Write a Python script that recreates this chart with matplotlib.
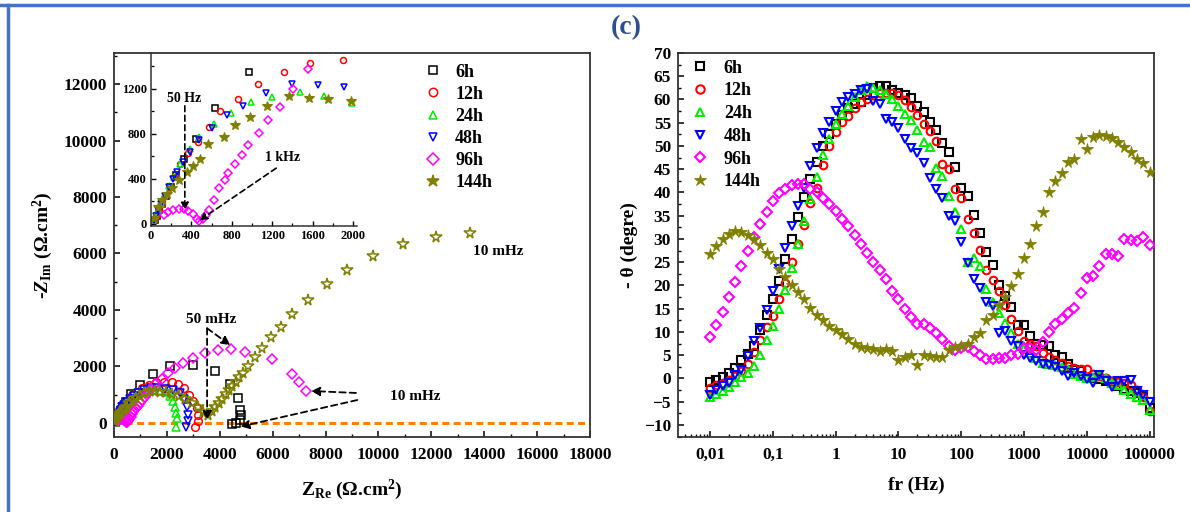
import matplotlib
matplotlib.use('Agg')
import matplotlib.pyplot as plt
from matplotlib.ticker import MultipleLocator, FixedLocator, FixedFormatter, LogLocator, NullFormatter
from matplotlib.lines import Line2D

plt.rcParams['font.family'] = ['Liberation Serif', 'DejaVu Serif']
plt.rcParams['font.weight'] = 'bold'
plt.rcParams['mathtext.fontset'] = 'custom'
plt.rcParams['mathtext.rm'] = 'Liberation Serif:bold'
plt.rcParams['mathtext.bf'] = 'Liberation Serif:bold'
plt.rcParams['mathtext.it'] = 'Liberation Serif:italic:bold'
plt.rcParams['mathtext.bfit'] = 'Liberation Serif:italic:bold'

# ---------------- data ----------------
SERIES = ['6h', '12h', '24h', '48h', '96h', '144h']
COLORS = ['#000000', '#ff0000', '#00ee00', '#0000ff', '#ff00ff', '#808000']
MARKERS = ['s', 'o', '^', 'v', 'D', '*']

# Nyquist (Z_Re, -Z_Im) in ohm.cm2
ZRE_6H = [35, 55, 80, 110, 150, 195, 250, 330, 444, 637, 975, 1463, 2118, 3000, 3820, 4390, 4700, 4765, 4790, 4765, 4614, 4475]
ZIM_6H = [30, 70, 120, 180, 250, 330, 430, 580, 755, 1028, 1348, 1718, 2030, 2047, 1830, 1360, 871, 470, 282, 106, -12, -47]

ZRE_12H = [30, 50, 75, 105, 140, 180, 230, 290, 371, 461, 570, 687, 866, 1055, 1313, 1579, 1897, 2180, 2430, 2650, 2850, 3000, 3120, 3170, 3170, 3080]
ZIM_12H = [30, 70, 120, 180, 250, 330, 420, 530, 628, 731, 859, 1001, 1108, 1244, 1348, 1434, 1458, 1450, 1380, 1230, 1000, 760, 520, 280, 60, -160]

ZRE_24H = [20, 40, 65, 95, 130, 179, 230, 290, 385, 478, 627, 796, 992, 1201, 1473, 1711, 1993, 2120, 2220, 2290, 2350, 2400, 2345]
ZIM_24H = [30, 70, 120, 180, 250, 332, 420, 530, 667, 771, 886, 984, 1082, 1132, 1170, 1141, 1078, 950, 760, 560, 365, 170, -150]

ZRE_48H = [25, 45, 70, 100, 135, 175, 220, 262, 312, 385, 480, 600, 749, 908, 1141, 1400, 1655, 1913, 2240, 2480, 2660, 2760, 2800, 2800, 2720]
ZIM_48H = [30, 70, 120, 180, 250, 330, 400, 465, 554, 643, 750, 856, 969, 1049, 1168, 1242, 1236, 1215, 1180, 1050, 850, 580, 290, 50, -150]

ZRE_96H = [129, 172, 219, 279, 328, 371, 419, 451, 478, 510, 544, 577, 627, 677, 736, 760, 830, 902, 965, 1065, 1158, 1274, 1406, 1555,
           1800, 2050, 2320, 2620, 3000, 3440, 3940, 4440, 4950, 5960, 6720, 7010, 7250]
ZIM_96H = [80, 107, 124, 133, 133, 110, 86, 42, 21, 42, 75, 124, 213, 317, 391, 450, 530, 613, 702, 812, 925, 1043, 1197, 1375,
           1560, 1760, 1930, 2120, 2290, 2460, 2580, 2630, 2520, 2250, 1720, 1440, 1140]

ZRE_144H = [30, 70, 113, 163, 212, 279, 361, 411, 487, 561, 719, 836, 985, 1151, 1363, 1562, 1755, 1977,
            2200, 2450, 2700, 2940, 3190, 3380, 3570,
            3700, 3830, 3960, 4090, 4220, 4350, 4480, 4610, 4740, 4880, 5080, 5333, 5585, 5938, 6305, 6745, 7349,
            8045, 8824, 9807, 10918, 12180, 13465]
ZIM_144H = [50, 150, 213, 265, 317, 391, 465, 516, 575, 708, 771, 880, 948, 1049, 1138, 1117, 1111, 1093,
            1010, 950, 860, 700, 560, 400, 280,
            420, 560, 710, 860, 1010, 1160, 1310, 1460, 1610, 1770, 2000, 2341, 2635, 3025, 3400, 3870, 4365,
            4930, 5424, 5894, 6318, 6600, 6717]

# Bode phase
FREQ_HZ = [0.01, 0.0126, 0.0158, 0.02, 0.0251, 0.0316, 0.0398, 0.0501, 0.0631, 0.0794,
           0.1, 0.126, 0.158, 0.2, 0.251, 0.316, 0.398, 0.501, 0.631, 0.794,
           1, 1.26, 1.58, 2, 2.51, 3.16, 3.98, 5.01, 6.31, 7.94,
           10, 12.6, 15.8, 20, 25.1, 31.6, 39.8, 50.1, 63.1, 79.4,
           100, 126, 158, 200, 251, 316, 398, 501, 631, 794,
           1000, 1260, 1580, 2000, 2510, 3160, 3980, 5010, 6310, 7940,
           10000, 12600, 15800, 20000, 25100, 31600, 39800, 50100, 63100, 79400, 100000]

PH_6H = [-0.8, -0.3, 0.3, 1.2, 2.2, 3.9, 5.3, 7.0, 10.5, 13.6,
         17.0, 20.9, 25.7, 29.9, 34.7, 39.0, 43.0, 46.6, 50.0, 52.5,
         54.7, 56.6, 58.1, 59.0, 59.4, 61.0, 62.5, 63.0, 63.0, 62.0,
         61.5, 61.0, 60.4, 58.5, 57.3, 55.2, 53.4, 50.6, 48.6, 45.4,
         40.9, 39.2, 35.1, 31.2, 27.2, 24.4, 20.1, 17.8, 15.4, 11.5,
         11.4, 9.2, 7.5, 7.2, 7.0, 5.0, 4.6, 3.0, 1.9, 1.5,
         0.1, 0.0, -0.2, -0.6, -1.0, -1.6, -2.3, -2.8, -3.2, -4.0, -6.3]

PH_12H = [-2.0, -1.5, -1.0, -0.3, 0.5, 1.5, 3.0, 5.6, 8.3, 11.0,
          13.5, 17.0, 20.5, 25.0, 29.0, 33.0, 37.7, 41.0, 46.0, 50.0,
          53.0, 55.2, 56.5, 58.1, 59.5, 60.2, 61.0, 61.3, 61.5, 61.5,
          61.0, 59.8, 58.4, 56.6, 54.8, 53.2, 51.1, 46.1, 45.1, 40.8,
          38.9, 34.4, 31.2, 27.6, 23.3, 21.1, 18.8, 15.9, 12.8, 10.3,
          8.0, 7.3, 7.0, 5.5, 4.7, 4.0, 3.3, 2.6, 2.3, 2.0,
          2.0, 1.0, 0.5, 0.0, -0.5, -0.8, -1.0, -1.5, -2.5, -4.0, -7.0]

PH_24H = [-4.0, -3.4, -2.6, -1.9, -0.8, 0.3, 1.2, 2.6, 5.0, 8.2,
          11.2, 15.0, 19.1, 23.8, 29.0, 33.9, 38.7, 43.4, 48.0, 51.6,
          54.7, 56.9, 58.5, 60.5, 62.0, 63.0, 62.5, 62.0, 61.2, 60.0,
          58.5, 56.8, 55.6, 53.5, 50.9, 49.7, 45.2, 43.5, 39.3, 35.8,
          32.2, 25.0, 26.0, 24.2, 19.3, 16.5, 14.0, 12.0, 9.8, 7.5,
          6.5, 5.5, 4.5, 3.3, 3.0, 2.8, 2.5, 2.0, 1.0, 0.5,
          0.1, 0.3, 0.8, 0.0, -1.0, -1.5, -2.5, -3.4, -4.0, -4.7, -6.7]

PH_48H = [-3.5, -2.4, -1.7, -0.9, 0.8, 1.9, 4.9, 8.0, 10.8, 14.8,
          18.8, 23.5, 28.0, 32.8, 37.0, 41.0, 45.7, 49.5, 52.7, 55.2,
          57.5, 59.5, 60.5, 61.2, 62.0, 62.2, 59.7, 59.0, 55.8, 55.1,
          53.8, 51.5, 49.5, 48.5, 46.3, 43.2, 40.8, 38.9, 34.9, 33.9,
          29.4, 24.9, 21.3, 19.5, 16.4, 15.5, 9.8, 10.3, 8.0, 6.9,
          5.0, 4.4, 3.7, 3.2, 2.8, 2.4, 1.5, 0.6, 1.1, 0.5,
          -0.2, -0.9, 0.8, -0.5, -1.9, -0.6, -0.5, -0.4, -2.8, -3.5, -5.0]

PH_96H = [8.9, 11.4, 14.3, 17.5, 20.7, 24.2, 27.4, 30.5, 33.3, 35.8,
          38.2, 39.8, 40.8, 41.5, 41.9, 41.8, 40.8, 40.0, 38.9, 37.5,
          36.0, 34.4, 32.8, 30.8, 29.0, 27.0, 25.0, 23.4, 21.3, 18.9,
          17.0, 15.0, 13.2, 11.7, 11.6, 10.8, 9.8, 8.5, 7.0, 6.2,
          6.5, 6.7, 6.0, 5.1, 4.2, 4.2, 4.3, 4.4, 5.1, 5.3,
          6.5, 6.5, 6.2, 7.8, 9.9, 11.6, 12.8, 14.1, 15.1, 18.4,
          21.6, 22.0, 24.1, 26.7, 26.7, 26.3, 29.9, 29.8, 29.5, 30.5, 28.7]

PH_144H = [26.7, 28.5, 29.9, 31.0, 31.7, 31.4, 30.8, 29.9, 28.6, 27.0,
           25.6, 23.5, 21.8, 20.2, 18.6, 17.0, 15.2, 13.6, 12.6, 11.2,
           10.5, 9.5, 8.5, 7.5, 6.7, 6.6, 6.3, 6.0, 6.3, 5.8,
           4.0, 4.7, 5.1, 2.8, 5.1, 4.8, 4.7, 4.6, 6.2, 6.7,
           6.9, 7.5, 8.9, 9.8, 12.5, 13.7, 15.7, 17.6, 19.8, 22.5,
           26.0, 29.0, 32.8, 35.8, 40.0, 42.5, 44.1, 46.6, 47.3, 51.6,
           49.3, 52.0, 52.3, 52.2, 51.8, 50.8, 49.7, 48.6, 47.3, 46.3, 44.4]

XTICK_FREQ = [0.01, 0.1, 1, 10, 100, 1000, 10000, 100000]
XTICK_LABELS = ['0,01', '0,1', '1', '10', '100', '1000', '10000', '100000']

NYQ = [(ZRE_6H, ZIM_6H), (ZRE_12H, ZIM_12H), (ZRE_24H, ZIM_24H),
       (ZRE_48H, ZIM_48H), (ZRE_96H, ZIM_96H), (ZRE_144H, ZIM_144H)]
BODE = [PH_6H, PH_12H, PH_24H, PH_48H, PH_96H, PH_144H]

# ---------------- figure ----------------
W, H = 1190, 512
fig = plt.figure(figsize=(W / 100, H / 100), dpi=100)
fig.patch.set_facecolor('white')


def frac(x0, y0, x1, y1):
    return [x0 / W, 1 - y1 / H, (x1 - x0) / W, (y1 - y0) / H]


axL = fig.add_axes(frac(114, 53, 590, 437))
axR = fig.add_axes(frac(678, 53, 1154, 437))
axI = fig.add_axes(frac(151, 53, 357, 226))

SPINE = '#333333'
for ax in (axL, axR):
    for s in ax.spines.values():
        s.set_linewidth(1.3)
        s.set_color(SPINE)
    ax.tick_params(which='both', direction='in', top=False, right=False, colors='black')
    ax.tick_params(which='major', length=4.5, width=1.1, labelsize=12.5, pad=5)
    ax.tick_params(which='minor', length=2.5, width=1.0)

# ----- Left: Nyquist -----
axL.set_xlim(0, 18000)
axL.set_ylim(-500, 13100)
axL.xaxis.set_major_locator(MultipleLocator(2000))
axL.xaxis.set_minor_locator(MultipleLocator(1000))
axL.yaxis.set_major_locator(MultipleLocator(2000))
axL.yaxis.set_minor_locator(MultipleLocator(1000))
axL.tick_params(axis='x', pad=7)
axL.axhline(0, color='#ff8000', lw=2.2, ls=(0, (2.3, 1.4)), zorder=1)

for (zr, zi), c, m, lab in zip(NYQ, COLORS, MARKERS, SERIES):
    ms = 8.5 if m == '*' else 5.5
    axL.plot(zr, zi, ls='none', marker=m, ms=ms, mfc='none', mec=c, mew=1.1, label=lab, zorder=3)

axL.set_xlabel('Z$_{\\mathbf{Re}}$ (Ω.cm$^{\\mathbf{2}}$)', fontsize=14, fontweight='bold', labelpad=11)
axL.set_ylabel('-$\\mathbfit{Z}_{\\mathbf{Im}}$ (Ω.cm$^{\\mathbf{2}}$)', fontsize=14, fontweight='bold', labelpad=6)

legL = axL.legend(loc='upper left', bbox_to_anchor=(0.652, 0.972), frameon=False, fontsize=13,
                  handlelength=1.0, handletextpad=0.7, labelspacing=0.28, borderpad=0, borderaxespad=0,
                  markerscale=1.1)
legL.legend_handles[5].set_markerfacecolor(COLORS[5])

arrow_kw = dict(arrowstyle='-|>', color='black', lw=1.3, ls=(0, (3.5, 2.2)), mutation_scale=13,
                shrinkA=0, shrinkB=0)
axL.text(3670, 3650, '50 mHz', fontsize=11, fontweight='bold', ha='center', va='center')
axL.annotate('', xy=(3520, 100), xytext=(3520, 3350), arrowprops=arrow_kw)
axL.annotate('', xy=(4400, 2750), xytext=(3520, 3350), arrowprops=arrow_kw)
axL.text(14520, 6080, '10 mHz', fontsize=11, fontweight='bold', ha='center', va='center')
axL.text(11385, 930, '10 mHz', fontsize=11, fontweight='bold', ha='center', va='center')
axL.annotate('', xy=(7450, 1130), xytext=(9150, 1060), arrowprops=arrow_kw)
axL.annotate('', xy=(4780, -130), xytext=(9200, 810), arrowprops=arrow_kw)

# ----- Inset -----
axI.set_xlim(0, 2040)
axI.set_ylim(-20, 1520)
axI.patch.set_alpha(0)
for side in ('top', 'right'):
    axI.spines[side].set_visible(False)
for side in ('left', 'bottom'):
    axI.spines[side].set_linewidth(1.1)
    axI.spines[side].set_color(SPINE)
axI.xaxis.set_major_locator(MultipleLocator(400))
axI.xaxis.set_minor_locator(MultipleLocator(200))
axI.yaxis.set_major_locator(MultipleLocator(400))
axI.yaxis.set_minor_locator(MultipleLocator(200))
axI.tick_params(which='both', direction='in', top=False, right=False)
axI.tick_params(which='major', length=3.5, width=1.0, labelsize=9, pad=3)
axI.tick_params(which='minor', length=2, width=0.9)
for (zr, zi), c, m in zip(NYQ, COLORS, MARKERS):
    if m == '*':
        axI.plot(zr, zi, ls='none', marker=m, ms=7, mfc=c, mec=c, mew=0.8, clip_on=True)
    else:
        axI.plot(zr, zi, ls='none', marker=m, ms=4.3, mfc='none', mec=c, mew=1.1, clip_on=True)

arrow_i = dict(arrowstyle='-|>', color='black', lw=1.2, ls=(0, (3.5, 2.2)), mutation_scale=11,
               shrinkA=0, shrinkB=0)
axI.text(328, 1115, '50 Hz', fontsize=10, fontweight='bold', ha='center', va='center')
axI.annotate('', xy=(335, 120), xytext=(335, 1050), arrowprops=arrow_i)
axI.text(1300, 590, '1 kHz', fontsize=10, fontweight='bold', ha='center', va='center')
axI.annotate('', xy=(480, 30), xytext=(1240, 495), arrowprops=arrow_i)

# ----- Right: Bode phase -----
axR.set_xscale('log')
axR.set_xlim(10 ** -2.51, 10 ** 5.07)
axR.set_ylim(-12.6, 70)
axR.xaxis.set_major_locator(FixedLocator(XTICK_FREQ))
axR.xaxis.set_major_formatter(FixedFormatter(XTICK_LABELS))
axR.xaxis.set_minor_locator(LogLocator(base=10, subs=[2, 3, 4, 5, 6, 7, 8, 9], numticks=50))
axR.xaxis.set_minor_formatter(NullFormatter())
axR.yaxis.set_major_locator(MultipleLocator(5))
axR.yaxis.set_minor_locator(MultipleLocator(2.5))
axR.tick_params(axis='x', pad=7)

for ph, c, m, lab in zip(BODE, COLORS, MARKERS, SERIES):
    if m == '*':
        axR.plot(FREQ_HZ, ph, ls='none', marker=m, ms=8.5, mfc=c, mec=c, mew=0.6, label=lab, zorder=3)
    else:
        axR.plot(FREQ_HZ, ph, ls='none', marker=m, ms=5.5 if m != 'D' else 5.0, mfc='none', mec=c,
                 mew=1.5, label=lab, zorder=3)

axR.set_xlabel('fr (Hz)', fontsize=14, fontweight='bold', labelpad=10)
axR.set_ylabel('- θ (degre)', fontsize=14, fontweight='bold', labelpad=4)
legR = axR.legend(loc='upper left', bbox_to_anchor=(0.028, 0.983), frameon=False, fontsize=13,
                  handlelength=1.0, handletextpad=0.8, labelspacing=0.32, borderpad=0, borderaxespad=0,
                  markerscale=1.1)

# ----- title and frame -----
fig.text(626 / W, 1 - 28 / H, '(c)', color='#2e4f8f', fontsize=20, fontweight='bold', ha='center', va='center')
fig.add_artist(Line2D([0, 1], [1 - 5 / H, 1 - 5 / H], color='#4472c4', lw=2.5, transform=fig.transFigure))
fig.add_artist(Line2D([8 / W, 8 / W], [0, 1 - 5 / H], color='#4472c4', lw=2.5, transform=fig.transFigure))

fig.savefig('out.png', dpi=100, facecolor='white')
